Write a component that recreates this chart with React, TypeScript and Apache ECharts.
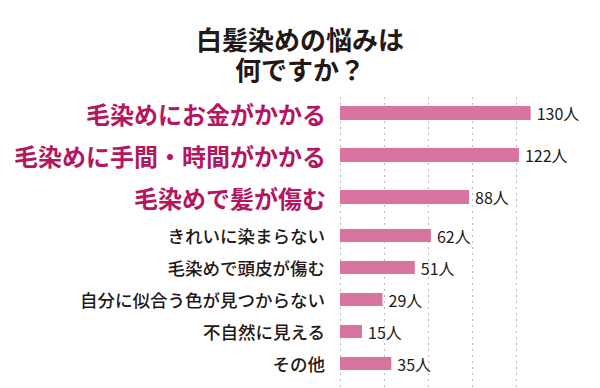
import React, { useEffect, useRef } from "react";
import * as echarts from "echarts";

const titleLines = ["白髪染めの悩みは", "何ですか？"];
const categoriesTop = ["毛染めにお金がかかる", "毛染めに手間・時間がかかる", "毛染めで髪が傷む"];
const valuesTop = [130, 122, 88];
const categoriesBottom = ["きれいに染まらない", "毛染めで頭皮が傷む", "自分に似合う色が見つからない", "不自然に見える", "その他"];
const valuesBottom = [62, 51, 29, 15, 35];
const unit = "人";

const FONT = '"Noto Sans CJK JP", "Noto Sans", sans-serif';
const BAR = "#d9739f";
const MAGENTA = "#b5175f";
const INK = "#231815";

export default function App() {
  const ref = useRef<HTMLDivElement>(null);
  useEffect(() => {
    if (!ref.current) return;
    const chart = echarts.init(ref.current, null, { renderer: "svg" });
    const xBase = (gridIndex: number, showSplit: boolean) => ({
      type: "value",
      gridIndex,
      min: 0,
      max: 150,
      interval: 30,
      axisLabel: { show: false },
      axisLine: { show: false },
      axisTick: { show: false },
      splitLine: {
        show: showSplit,
        showMinLine: true,
        showMaxLine: false,
        lineStyle: { color: "#bdbdbd", width: 1, type: [2, 4] },
      },
    });
    const label = {
      show: true,
      position: "right",
      distance: 6,
      formatter: (p: any) => `${p.value}${unit}`,
      fontSize: 16,
      color: INK,
      fontFamily: FONT,
    };
    const titleStyle = {
      fontSize: 26,
      lineHeight: 26,
      fontWeight: "bold",
      color: INK,
      fontFamily: FONT,
    };
    chart.setOption({
      animation: false,
      backgroundColor: "#ffffff",
      title: [
        { text: titleLines[0], left: "center", top: 25, padding: 0, textStyle: titleStyle },
        { text: titleLines[1], left: "center", top: 55, padding: 0, textStyle: titleStyle },
      ],
      grid: [
        { left: 340, top: 97, width: 220, bottom: 0 },
        { left: 340, top: 92, width: 220, height: 126 },
        { left: 340, top: 219.5, width: 220, height: 160 },
      ],
      xAxis: [xBase(0, true), xBase(1, false), xBase(2, false)],
      yAxis: [
        { type: "value", gridIndex: 0, min: 0, max: 1, show: false },
        {
          type: "category",
          gridIndex: 1,
          data: categoriesTop,
          inverse: true,
          axisLine: { show: false },
          axisTick: { show: false },
          axisLabel: { margin: 14, fontSize: 24, fontWeight: "bold", color: MAGENTA, fontFamily: FONT },
        },
        {
          type: "category",
          gridIndex: 2,
          data: categoriesBottom,
          inverse: true,
          axisLine: { show: false },
          axisTick: { show: false },
          axisLabel: { margin: 15, fontSize: 17.5, fontWeight: 500, color: INK, fontFamily: FONT },
        },
      ],
      series: [
        {
          type: "bar",
          xAxisIndex: 1,
          yAxisIndex: 1,
          data: valuesTop,
          barWidth: 14,
          itemStyle: { color: BAR },
          label,
        },
        {
          type: "bar",
          xAxisIndex: 2,
          yAxisIndex: 2,
          data: valuesBottom,
          barWidth: 13,
          itemStyle: { color: BAR },
          label,
        },
      ],
    });
    return () => chart.dispose();
  }, []);
  return (
    <div
      ref={ref}
      style={{ position: "fixed", left: 0, top: 0, width: 600, height: 388, background: "#fff" }}
    />
  );
}
